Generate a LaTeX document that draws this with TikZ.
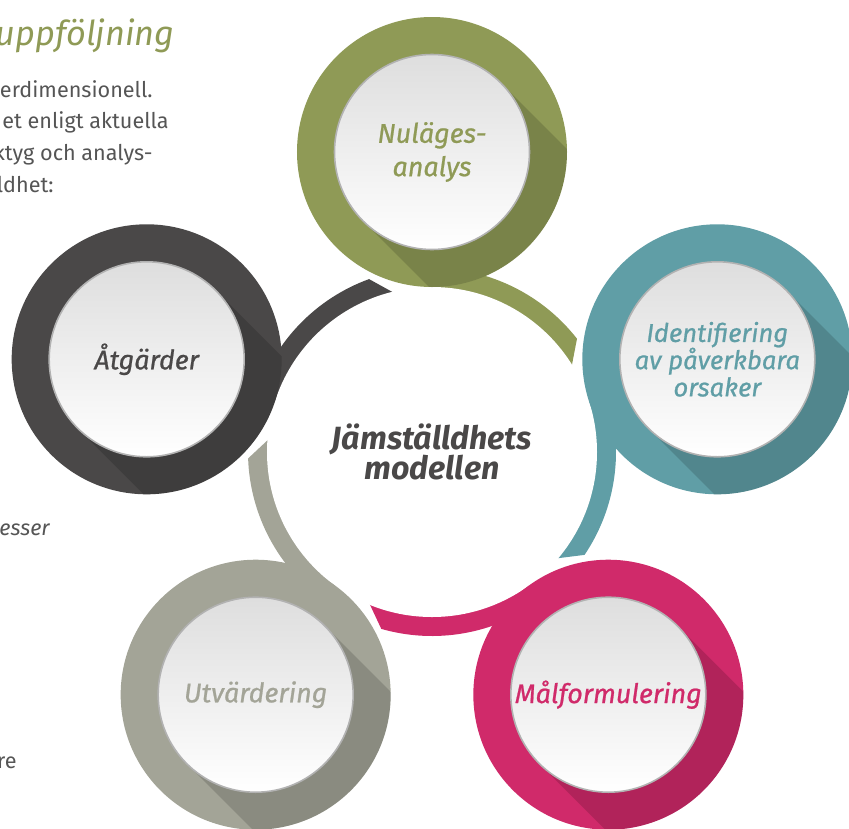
\documentclass[tikz,border=0pt]{standalone}
\usepackage{fontspec}
\setmainfont{Fira Sans}
\newfontfamily\etikett{Fira Sans}[FakeBold=0.8]
\usetikzlibrary{shapes}
\definecolor{nul}{HTML}{8F9A56}
\definecolor{ide}{HTML}{609EA6}
\definecolor{mal}{HTML}{D02A6A}
\definecolor{utv}{HTML}{A3A497}
\definecolor{atg}{HTML}{4A4848}
\definecolor{brod}{HTML}{555555}

\begin{document}
\begin{tikzpicture}
\tikzstyle{ring}=[circle,minimum size=5.4cm,inner sep=0pt];
\tikzstyle{disc}=[circle,minimum size=3.9cm,inner sep=0pt,top color=black!13,bottom color=white,draw=black!30,line width=0.9pt,align=center,font=\etikett\fontsize{15.3}{19}\selectfont\itshape];
\tikzstyle{skugga}=[black,opacity=0.15];
\tikzstyle{brodtext}=[anchor=base east,inner sep=0pt,text=brod,font=\fontsize{12.3}{14}\selectfont];
\useasboundingbox (-8.64,-7.52) rectangle (8.34,9.04);
\clip (-8.64,-7.52) rectangle (8.34,9.04);
\fill [nul] (90:3.68) arc [start angle=90,end angle=38,radius=3.68] -- (31:3.25) arc [start angle=31,end angle=90,radius=3.25] -- cycle;
\fill [ide] (18:3.68) arc [start angle=18,end angle=-34,radius=3.68] -- (-41:3.25) arc [start angle=-41,end angle=18,radius=3.25] -- cycle;
\fill [mal] (-54:3.68) arc [start angle=-54,end angle=-106,radius=3.68] -- (-113:3.25) arc [start angle=-113,end angle=-54,radius=3.25] -- cycle;
\fill [utv] (-126:3.68) arc [start angle=-126,end angle=-178,radius=3.68] -- (-185:3.25) arc [start angle=-185,end angle=-126,radius=3.25] -- cycle;
\fill [atg] (162:3.68) arc [start angle=162,end angle=110,radius=3.68] -- (103:3.25) arc [start angle=103,end angle=162,radius=3.25] -- cycle;
\node [circle,fill=white,minimum size=6.6cm,inner sep=0pt,align=center,text=atg,font=\fontsize{18.3}{17.5}\selectfont\bfseries\itshape] (modell) at (0,0) {Jämställdhets\\modellen};
\node [ring,fill=nul] (v1) at (90:6) {};
\node [ring,fill=ide] (v2) at (18:6) {};
\node [ring,fill=mal] (v3) at (-54:6) {};
\node [ring,fill=utv] (v4) at (-126:6) {};
\node [ring,fill=atg] (v5) at (162:6) {};
\begin{scope}[shift={(90:6)}]
\clip (0,0) circle (2.7);
\fill [skugga] (45:1.95) -- ++(-45:4) -- ++(225:3.9) -- (225:1.95) -- cycle;
\end{scope}
\begin{scope}[shift={(18:6)}]
\clip (0,0) circle (2.7);
\fill [skugga] (45:1.95) -- ++(-45:4) -- ++(225:3.9) -- (225:1.95) -- cycle;
\end{scope}
\begin{scope}[shift={(-54:6)}]
\clip (0,0) circle (2.7);
\fill [skugga] (45:1.95) -- ++(-45:4) -- ++(225:3.9) -- (225:1.95) -- cycle;
\end{scope}
\begin{scope}[shift={(-126:6)}]
\clip (0,0) circle (2.7);
\fill [skugga] (45:1.95) -- ++(-45:4) -- ++(225:3.9) -- (225:1.95) -- cycle;
\end{scope}
\begin{scope}[shift={(162:6)}]
\clip (0,0) circle (2.7);
\fill [skugga] (45:1.95) -- ++(-45:4) -- ++(225:3.9) -- (225:1.95) -- cycle;
\end{scope}
\node [disc,text=nul] (nulage) at (v1) {Nuläges-\\analys};
\node [disc,text=ide,font=\etikett\fontsize{14.6}{15.5}\selectfont\itshape] (orsak) at (v2) {Identifiering\\av påverkbara\\orsaker};
\node [disc,text=mal] (mal) at (v3) {Målformulering};
\node [disc,text=utv] (utv) at (v4) {Utvärdering};
\node [disc,text=atg] (atg) at (v5) {Åtgärder};
\node [anchor=base east,inner sep=0pt,text=nul,font=\fontsize{19.5}{22}\selectfont\itshape] (rubrik) at (-5.14,8.14) {uppföljning};
\node [brodtext] (rad1) at (-5.58,7.10) {erdimensionell.};
\node [brodtext] (rad2) at (-5.26,6.48) {et enligt aktuella};
\node [brodtext] (rad3) at (-5.58,5.84) {ktyg och analys-};
\node [brodtext] (rad4) at (-7.56,5.20) {ldhet:};
\node [brodtext,font=\fontsize{12.3}{14}\selectfont\itshape] (rad5) at (-7.64,-1.66) {esser};
\node [brodtext] (rad6) at (-8.30,-6.32) {re};
\end{tikzpicture}
\end{document}
